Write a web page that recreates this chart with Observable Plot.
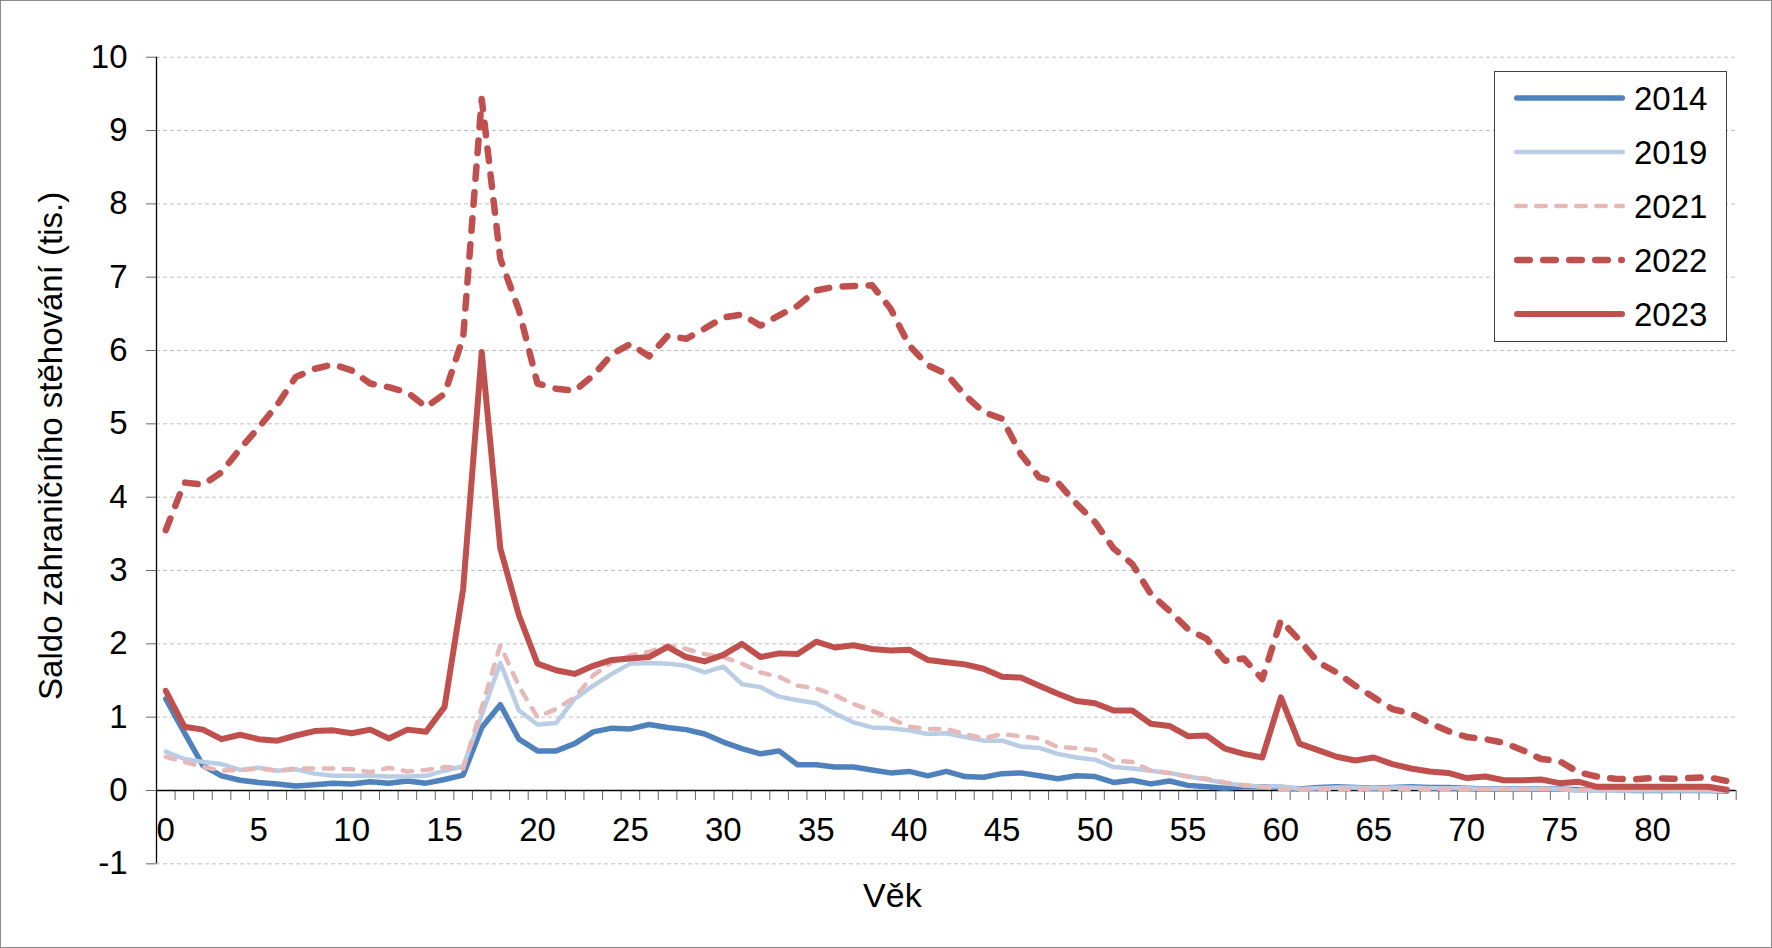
<!DOCTYPE html>
<html>
<head>
<meta charset="utf-8">
<script src="https://cdn.jsdelivr.net/npm/d3@7"></script>
<script src="https://cdn.jsdelivr.net/npm/@observablehq/plot@0.6"></script>
<style>
  html, body { margin: 0; padding: 0; background: white; }
  #wrap { position: relative; width: 1772px; height: 948px; overflow: hidden; }
  #border { position: absolute; left: 0; top: 0; width: 1770px; height: 946px; border: 1px solid #8c8c8c; pointer-events: none; }
  #legend { position: absolute; left: 1494px; top: 71px; }
</style>
</head>
<body>
<div id="wrap"><div id="border"></div></div>
<script>
const ages = d3.range(0, 85);
const years = ["2014", "2019", "2021", "2022", "2023"];
const yTicks = d3.range(-1, 11);
const xLabels = d3.range(0, 85, 5);
const xBounds = d3.range(0.5, 85, 1);

const v2014 = [1.25,0.79,0.34,0.20,0.14,0.11,0.09,0.06,0.08,0.10,0.09,0.12,0.10,0.13,0.10,0.15,0.21,0.86,1.17,0.70,
  0.54,0.54,0.64,0.80,0.85,0.84,0.90,0.86,0.83,0.77,0.66,0.57,0.50,0.54,0.35,0.35,0.32,0.32,0.28,0.24,
  0.26,0.20,0.26,0.19,0.18,0.23,0.24,0.20,0.16,0.20,0.19,0.11,0.14,0.09,0.13,0.07,0.05,0.03,0.05,0.05,
  0.04,0.02,0.04,0.05,0.04,0.03,0.04,0.05,0.04,0.04,0.03,0.02,0.02,0.02,0.02,0.02,0.01,0.01,0.01,0.00,
  0.00,0.00,0.00,0.00,-0.01];
const v2019 = [0.53,0.43,0.39,0.36,0.28,0.31,0.27,0.29,0.23,0.20,0.20,0.20,0.19,0.19,0.20,0.27,0.33,1.03,1.74,1.09,
  0.90,0.92,1.25,1.43,1.59,1.73,1.74,1.73,1.70,1.61,1.69,1.45,1.41,1.28,1.23,1.19,1.05,0.93,0.86,0.85,
  0.82,0.77,0.78,0.73,0.68,0.68,0.60,0.58,0.50,0.45,0.42,0.32,0.30,0.27,0.24,0.19,0.15,0.10,0.07,0.05,
  0.06,0.02,0.03,0.04,0.04,0.03,0.04,0.04,0.03,0.03,0.03,0.02,0.02,0.02,0.02,0.02,0.00,0.00,0.00,0.00,
  0.00,0.00,0.00,0.00,-0.01];
const v2021 = [0.46,0.39,0.32,0.27,0.28,0.30,0.27,0.30,0.30,0.30,0.29,0.25,0.31,0.26,0.28,0.32,0.30,1.13,1.98,1.42,
  1.00,1.11,1.27,1.57,1.75,1.84,1.89,1.98,1.93,1.86,1.82,1.73,1.61,1.55,1.43,1.39,1.30,1.18,1.09,0.98,
  0.87,0.84,0.84,0.77,0.71,0.77,0.74,0.71,0.59,0.58,0.55,0.41,0.39,0.27,0.24,0.19,0.16,0.11,0.07,0.05,
  0.02,0.01,0.02,0.02,0.02,0.02,0.02,0.02,0.02,0.02,0.02,0.02,0.02,0.02,0.02,0.02,0.01,0.01,0.01,0.01,
  0.01,0.01,0.01,0.01,0.00];
const v2022 = [3.55,4.20,4.17,4.34,4.66,4.95,5.26,5.64,5.75,5.81,5.73,5.55,5.50,5.43,5.23,5.41,6.18,9.43,7.25,6.55,
  5.55,5.48,5.45,5.66,5.95,6.09,5.92,6.20,6.16,6.30,6.45,6.49,6.34,6.48,6.61,6.82,6.87,6.88,6.89,6.57,
  6.07,5.80,5.68,5.39,5.16,5.07,4.59,4.27,4.20,3.91,3.66,3.30,3.09,2.68,2.45,2.20,2.07,1.77,1.80,1.52,
  2.32,2.05,1.75,1.61,1.43,1.27,1.11,1.05,0.92,0.81,0.73,0.70,0.65,0.55,0.43,0.40,0.25,0.19,0.16,0.15,
  0.17,0.16,0.17,0.18,0.13];
const v2023 = [1.36,0.87,0.83,0.70,0.76,0.70,0.68,0.75,0.81,0.82,0.78,0.83,0.71,0.83,0.80,1.14,2.75,5.98,3.30,2.39,
  1.73,1.64,1.59,1.70,1.78,1.80,1.82,1.96,1.82,1.76,1.85,2.00,1.82,1.87,1.86,2.03,1.95,1.98,1.93,1.91,
  1.92,1.78,1.75,1.72,1.66,1.55,1.54,1.43,1.32,1.22,1.19,1.09,1.09,0.91,0.88,0.74,0.75,0.57,0.50,0.45,
  1.27,0.64,0.55,0.46,0.41,0.45,0.36,0.30,0.26,0.24,0.17,0.19,0.14,0.14,0.15,0.10,0.12,0.05,0.05,0.05,
  0.05,0.05,0.05,0.05,0.01];

const seriesValues = [v2014, v2019, v2021, v2022, v2023];
const rows = [];
years.forEach((yr, i) => seriesValues[i].forEach((v, j) => rows.push({age: ages[j], year: yr, value: v})));

const styles = {
  "2014": {stroke: "#4F81BD", width: 5.5, dash: null},
  "2019": {stroke: "#B9CDE5", width: 4.5, dash: null},
  "2021": {stroke: "#E6B9B8", width: 4.5, dash: "9.5,10.5"},
  "2022": {stroke: "#C0504D", width: 6.5, dash: "12.5,13.5"},
  "2023": {stroke: "#C0504D", width: 6, dash: null}
};

const font = "'Liberation Sans', Arial, Helvetica, sans-serif";
const fmt = d => d < 0 ? "-" + Math.abs(d) : String(d);

const chart = Plot.plot({
  width: 1772,
  height: 948,
  marginLeft: 156,
  marginRight: 36.3,
  marginTop: 56.7,
  marginBottom: 158,
  x: {domain: [-0.5, 84.5], label: null},
  y: {domain: [0, 10], label: null},
  style: {fontFamily: font, fontSize: "33px", color: "black", background: "white", overflow: "visible"},
  marks: [
    Plot.ruleY(yTicks, {stroke: "#bfbfbf", strokeWidth: 1, strokeDasharray: "4,3"}),
    Plot.axisY(yTicks, {tickSize: 10, tickPadding: 19, fontSize: 33, stroke: "#666", fill: "black", tickFormat: fmt, label: null}),
    Plot.axisX(xBounds, {tickSize: 10, stroke: "#666", tickFormat: () => "", label: null}),
    Plot.axisX(xLabels, {tickSize: 0, tickPadding: 27, fontSize: 33, fill: "black", tickFormat: fmt, label: null}),
    Plot.ruleX([-0.5], {y1: -1, y2: 10, stroke: "black", strokeWidth: 1.3}),
    Plot.ruleY([0], {stroke: "black", strokeWidth: 1.3}),
    ...years.map(yr => Plot.line(rows.filter(r => r.year === yr), {
      x: "age", y: "value",
      stroke: styles[yr].stroke,
      strokeWidth: styles[yr].width,
      strokeDasharray: styles[yr].dash,
      strokeLinecap: "round",
      strokeLinejoin: "round"
    })),
    Plot.text(["Saldo zahraničního stěhování (tis.)"], {frameAnchor: "left", textAnchor: "middle", dx: -105, dy: 22, rotate: -90, fontSize: 33, fill: "black"}),
    Plot.text(["Věk"], {frameAnchor: "bottom", textAnchor: "middle", dx: -54, dy: 116, fontSize: 34, fill: "black"})
  ]
});

const wrap = document.getElementById("wrap");
wrap.insertBefore(chart, wrap.firstChild);

// Legend (inside plot area, top right)
const lg = d3.select(wrap).append("svg")
  .attr("id", "legend")
  .attr("width", 233).attr("height", 271);
lg.append("rect").attr("x", 0.5).attr("y", 0.5).attr("width", 232).attr("height", 270)
  .attr("fill", "white").attr("stroke", "#404040").attr("stroke-width", 1);
years.forEach((yr, i) => {
  const cy = 27 + i * 54;
  const s = styles[yr];
  lg.append("line")
    .attr("x1", 20 + s.width / 2).attr("x2", 131 - s.width / 2)
    .attr("y1", cy).attr("y2", cy)
    .attr("stroke", s.stroke).attr("stroke-width", s.width)
    .attr("stroke-linecap", "round")
    .attr("stroke-dasharray", s.dash);
  lg.append("text")
    .attr("x", 140).attr("y", cy + 12)
    .attr("font-family", font).attr("font-size", 33)
    .attr("fill", "black")
    .text(yr);
});
</script>
</body>
</html>
